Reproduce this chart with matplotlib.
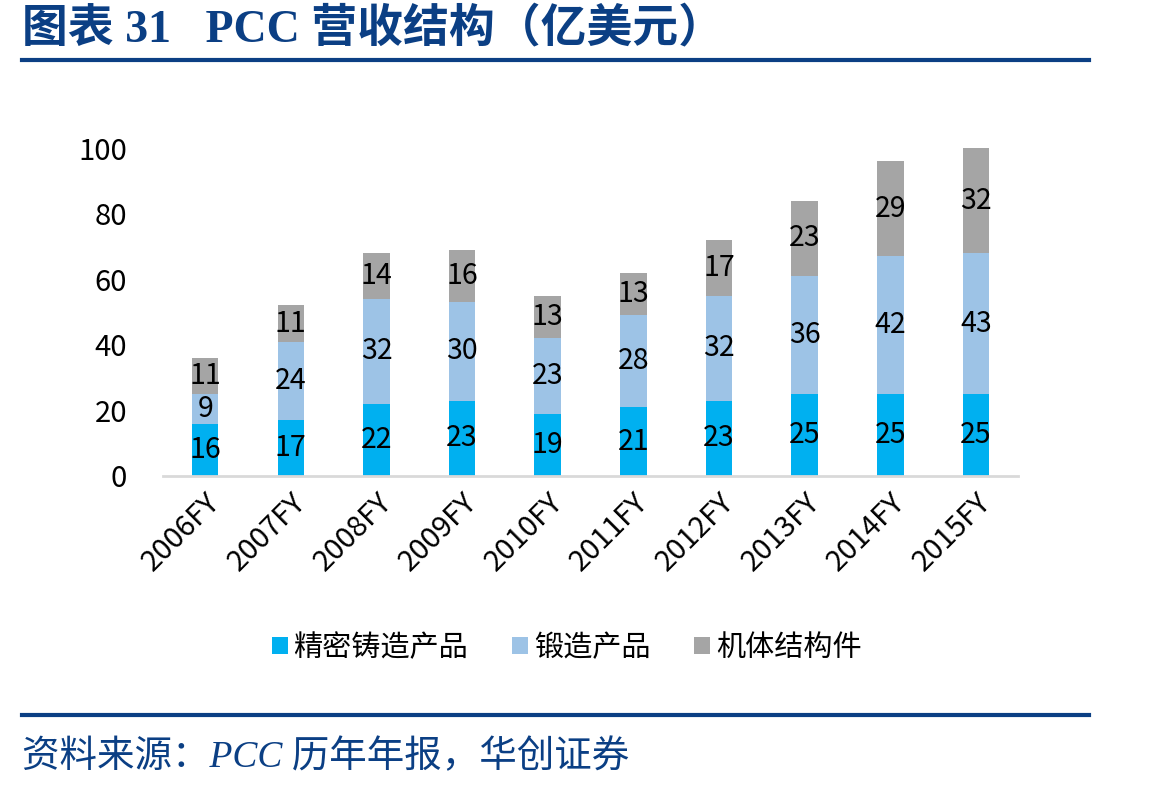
import numpy as np
import matplotlib.pyplot as plt

plt.rcParams['font.family'] = ['Noto Sans CJK SC', 'DejaVu Sans']

# data (亿美元)
years = ['2006FY', '2007FY', '2008FY', '2009FY', '2010FY',
         '2011FY', '2012FY', '2013FY', '2014FY', '2015FY']
casting = [16, 17, 22, 23, 19, 21, 23, 25, 25, 25]      # 精密铸造产品
forging = [9, 24, 32, 30, 23, 28, 32, 36, 42, 43]        # 锻造产品
airframe = [11, 11, 14, 16, 13, 13, 17, 23, 29, 32]      # 机体结构件
series_names = ['精密铸造产品', '锻造产品', '机体结构件']
colors = ['#00B0F0', '#9DC3E6', '#A5A5A5']

navy = '#0B3F84'

fig = plt.figure(figsize=(11.49, 7.92), dpi=100)
ax = fig.add_axes([0.142, 0.399, 0.744, 0.414])

x = np.arange(len(years))
bottom = np.zeros(len(years))
for vals, name, c in zip([casting, forging, airframe], series_names, colors):
    bars = ax.bar(x, vals, width=0.31, bottom=bottom, color=c, label=name, zorder=2)
    ax.bar_label(bars, labels=[str(v) for v in vals], label_type='center',
                 fontsize=20.5, color='black')
    bottom += np.array(vals)

ax.set_xlim(-0.49, 9.49)
ax.set_ylim(0, 100)
ax.set_yticks(range(0, 101, 20))
ax.set_xticks(x)
ax.set_xticklabels(years, rotation=45, ha='right', rotation_mode='anchor')
ax.tick_params(axis='both', length=0, labelsize=21, colors='black')
ax.tick_params(axis='y', pad=26)
ax.tick_params(axis='x', pad=8)
for s in ['top', 'right', 'left']:
    ax.spines[s].set_visible(False)
ax.spines['bottom'].set_color('#D9D9D9')
ax.spines['bottom'].set_linewidth(2)

ax.legend(loc='center', bbox_to_anchor=(0.472, -0.524), ncol=3, frameon=False,
          fontsize=21, handlelength=0.55, handleheight=0.55, handletextpad=0.2,
          columnspacing=1.5)

# title and footer
fig.text(0.019, 0.963, '图表 31   PCC 营收结构（亿美元）', fontsize=33, fontweight='bold',
         color=navy, va='center', family=['Liberation Serif', 'Noto Sans CJK SC'])
fig.add_artist(plt.Line2D([0.019, 0.948], [0.924, 0.924], color=navy, lw=3))
fig.add_artist(plt.Line2D([0.019, 0.948], [0.097, 0.097], color=navy, lw=3))
fig.text(0.019, 0.044, '资料来源：PCC 历年年报，华创证券', fontsize=27, style='italic',
         color=navy, va='center', family=['Liberation Serif', 'Noto Sans CJK SC'])

fig.savefig('out.png', dpi=100)
